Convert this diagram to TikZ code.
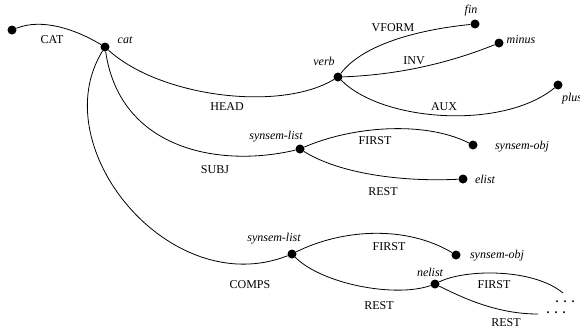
\documentclass[tikz,border=0pt]{standalone}
\usepackage{fontspec}
\setmainfont{Liberation Serif}

\begin{document}
\begin{tikzpicture}[x=1pt,y=-1pt,
    dot/.style={circle,fill=black,inner sep=0pt,minimum size=9pt},
    feat/.style={font=\fontsize{12}{14}\selectfont},
    typ/.style={font=\fontsize{12}{14}\selectfont\itshape},
    more/.style={font=\fontsize{12}{14}\selectfont\bfseries,inner sep=0pt},
    arc/.style={line width=0.8pt}]
    \useasboundingbox (0,0) rectangle (580,330);

    % Top: CAT and the head value
    \node[dot] (root) at (12,30) {};
    \node[dot] (cat) at (105,47) {};
    \node[typ] (catlbl) at (125,40) {cat};
    \node[feat] (catf) at (52,40) {CAT};
    \draw[arc] (root) .. controls +(30,-12) and +(-30,-18) .. (cat);

    \node[dot] (verb) at (338,77) {};
    \node[typ] (verblbl) at (324,61) {verb};
    \node[feat] (headf) at (227,107) {HEAD};
    \draw[arc] (cat) .. controls +(55,50) and +(-58,35) .. (verb);

    % Head features
    \node[dot] (fin) at (475,24) {};
    \node[typ] (finlbl) at (471,11) {fin};
    \node[feat] (vformf) at (393,28) {VFORM};
    \draw[arc] (verb) .. controls +(27,-35) and +(-50,5) .. (fin);

    \node[dot] (minus) at (499,43) {};
    \node[typ] (minuslbl) at (521,40) {minus};
    \node[feat] (invf) at (414,61) {INV};
    \draw[arc] (verb) .. controls +(60,-2) and +(-50,20) .. (minus);

    \node[dot] (plus) at (558,85) {};
    \node[typ] (pluslbl) at (572,99) {plus};
    \node[feat] (auxf) at (444,107) {AUX};
    \draw[arc] (verb) .. controls +(45,45) and +(-55,45) .. (plus);

    % Subject list
    \node[dot] (sbj) at (300,149) {};
    \node[typ] (sbjlbl) at (276,137) {synsem-list};
    \node[feat] (subjf) at (215,170) {SUBJ};
    \draw[arc] (cat) .. controls +(15,103) and +(-80,19) .. (sbj);

    \node[dot] (sbjobj) at (473,145) {};
    \node[typ] (sbjobjlbl) at (522,147) {synsem-obj};
    \node[feat] (sbjfirst) at (375,141) {FIRST};
    \draw[arc] (sbj) .. controls +(50,-22) and +(-50,-25) .. (sbjobj);

    \node[dot] (elist) at (463,179) {};
    \node[typ] (elistlbl) at (485,179) {elist};
    \node[feat] (sbjrest) at (383,192) {REST};
    \draw[arc] (sbj) .. controls +(40,25) and +(-60,3) .. (elist);

    % Complements list
    \node[dot] (cmp) at (292,254) {};
    \node[typ] (cmplbl) at (274,239) {synsem-list};
    \node[feat] (compsf) at (250,285) {COMPS};
    \draw[arc] (cat) .. controls +(-62,100) and +(-122,48) .. (cmp);

    \node[dot] (cmpobj) at (456,255) {};
    \node[typ] (cmpobjlbl) at (497,256) {synsem-obj};
    \node[feat] (cmpfirst) at (389,247) {FIRST};
    \draw[arc] (cmp) .. controls +(50,-25) and +(-50,-30) .. (cmpobj);

    \node[dot] (nelist) at (435,284) {};
    \node[typ] (nelistlbl) at (430,272) {nelist};
    \node[feat] (cmprest) at (379,306) {REST};
    \draw[arc] (cmp) .. controls +(30,30) and +(-40,14) .. (nelist);

    % Open ends
    \coordinate (upend) at (563,293);
    \coordinate (lowend) at (538,314);
    \node[more,anchor=base] (updots) at (565,302) {.\kern5pt.\kern5pt.};
    \node[more,anchor=base] (lowdots) at (556,313) {.\kern5pt.\kern5pt.};
    \node[feat] (nefirst) at (494,285) {FIRST};
    \node[feat] (nerest) at (506,323) {REST};
    \draw[arc] (nelist) .. controls +(30,-15) and +(-30,-25) .. (upend);
    \draw[arc] (nelist) .. controls +(30,15) and +(-40,0) .. (lowend);

\end{tikzpicture}
\end{document}
